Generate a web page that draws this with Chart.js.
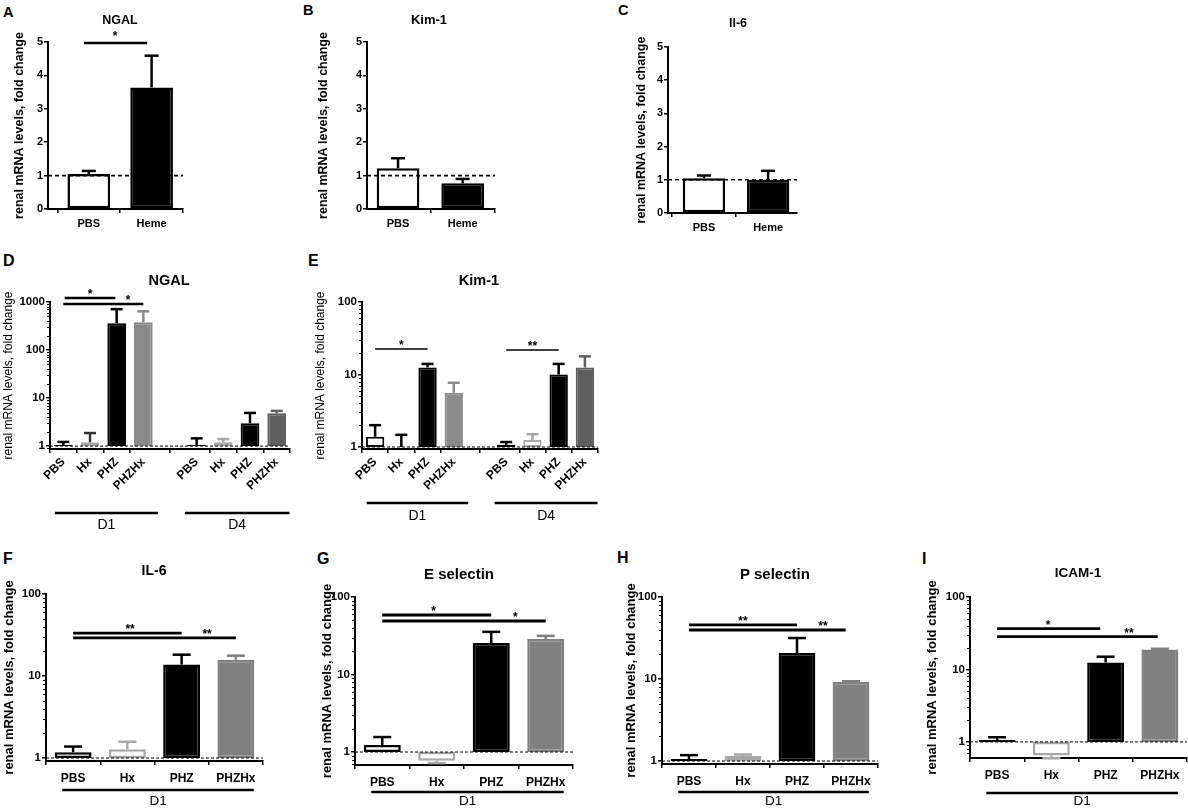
<!DOCTYPE html>
<html><head><meta charset="utf-8">
<script src="https://cdn.jsdelivr.net/npm/chart.js@4.4.1/dist/chart.umd.min.js"></script>
<style>
html,body{margin:0;padding:0;background:#fff;width:1188px;height:812px;overflow:hidden;position:relative;font-family:"Liberation Sans",Arial,sans-serif;}
canvas{position:absolute;}
.lt{position:absolute;font-weight:bold;line-height:1;color:#000;white-space:nowrap;}
.tt{position:absolute;font-weight:bold;line-height:1;color:#000;white-space:nowrap;transform:translate(-50%,-50%);}
</style></head><body>
<script>
const FF = '"Liberation Sans", Arial, sans-serif';
const YTITLE = 'renal mRNA levels, fold change';

// ---------- data ----------
const catsABC = ['PBS', 'Heme'];
const posABC = [0, 1];
const ngalA = [1.05, 3.64];
const ngalAErr = [1.14, 4.59];
const kimB = [1.22, 0.77];
const kimBErr = [1.52, 0.90];
const il6C = [1.05, 1.00];
const il6CErr = [1.13, 1.27];
const ticksLin = [0, 1, 2, 3, 4, 5];

const catsDE = ['PBS', 'Hx', 'PHZ', 'PHZHx', 'PBS', 'Hx', 'PHZ', 'PHZHx'];
const posDE = [0, 1, 2, 3, 5, 6, 7, 8];
const ngalD = [1.05, 1.2, 363, 380, 1.05, 1.2, 3.0, 4.8];
const ngalDErr = [1.22, 1.87, 710, 640, 1.45, 1.4, 4.9, 5.4];
const kimE = [1.38, 1.0, 12.5, 5.6, 1.07, 1.25, 10.0, 12.5];
const kimEErr = [2.0, 1.47, 14.0, 7.7, 1.17, 1.5, 14.0, 17.8];
const ticksD = [1, 10, 100, 1000];
const ticksLog = [1, 10, 100];
const groupsDE = [[-0.32, 3.55, 'D1'], [4.56, 8.48, 'D4']];

const catsFI = ['PBS', 'Hx', 'PHZ', 'PHZHx'];
const posFI = [0, 1, 2, 3];
const il6F = [1.18, 1.28, 13.8, 15.8];
const il6FErr = [1.38, 1.58, 18.2, 17.7];
const eselG = [1.23, 0.77, 25.5, 28.7];
const eselGErr = [1.56, 0.72, 35.5, 31.5];
const pselH = [1.06, 1.15, 20.7, 9.2];
const pselHErr = [1.18, 1.2, 31.6, 9.4];
const icamI = [1.06, 0.65, 12.5, 18.8];
const icamIErr = [1.16, 0.595, 15.0, 19.3];
const groupsFI = [[-0.2, 3.33, 'D1']];

// significance bars: [from, to, y value, label, star position]
const sigA = [[-0.08, 0.93, 4.97, '*', 0.42]];
const sigD = [[0.05, 1.95, 1211, '*', 1.0], [0, 3.0, 908, '*', 2.43]];
const sigE = [[0, 2, 22.5, '*', 1.0], [5, 7, 21.8, '**', 6.0]];
const sigF = [[0, 2, 33.4, '**', 1.05], [0, 3, 29.1, '**', 2.47]];
const sigG = [[0, 2, 58.6, '*', 0.94], [0, 3, 49.0, '*', 2.44]];
const sigH = [[0, 2, 45.6, '**', 1.0], [0, 2.9, 39.6, '**', 2.48]];
const sigI = [[0, 1.9, 36.5, '*', 0.94], [0, 2.96, 28.3, '**', 2.43]];

const REF = 1;

// ---------- styles ----------
const W = '#ffffff', K = '#000000', HX = '#a8a8a8', G1 = '#8a8a8a', G2 = '#5e5e5e', G3 = '#808080';

function panel(p) {
  const padTop = p.padTop || 18, padRight = (p.padRight === undefined) ? 6 : p.padRight;
  const cw = Math.round(p.right - p.left + p.yW + padRight);
  const ch = Math.round(p.bottom - p.top + padTop + p.xH);
  const cv = document.createElement('canvas');
  cv.width = cw; cv.height = ch;
  cv.style.left = (p.left - p.yW) + 'px';
  cv.style.top = (p.top - padTop) + 'px';
  cv.style.width = cw + 'px'; cv.style.height = ch + 'px';
  document.body.appendChild(cv);

  const annot = {
    id: 'annot' + p.id,
    afterDatasetsDraw(chart) {
      const ctx = chart.ctx, xs = chart.scales.x, ys = chart.scales.y, ca = chart.chartArea;
      ctx.save();
      // minor ticks on log axis
      if (p.log) {
        ctx.strokeStyle = K; ctx.lineWidth = 1;
        const d0 = Math.floor(Math.log10(p.ymin)), d1 = Math.ceil(Math.log10(p.ymax));
        for (let d = d0; d < d1; d++) {
          for (let k = 2; k <= 9; k++) {
            const v = k * Math.pow(10, d);
            if (v <= p.ymin || v >= p.ymax) continue;
            const y = Math.round(ys.getPixelForValue(v)) + 0.5;
            ctx.beginPath(); ctx.moveTo(ca.left - 3, y); ctx.lineTo(ca.left, y); ctx.stroke();
          }
        }
      }
      // error bars
      const meta = chart.getDatasetMeta(0);
      meta.data.forEach((bar, i) => {
        const x = bar.x;
        const y0 = ys.getPixelForValue(p.vals[i]);
        const y1 = ys.getPixelForValue(p.errs[i]);
        ctx.strokeStyle = (p.errCols || p.borders)[i];
        ctx.lineWidth = p.errW;
        ctx.beginPath(); ctx.moveTo(x, y0); ctx.lineTo(x, y1); ctx.stroke();
        ctx.beginPath(); ctx.moveTo(x - p.cap / 2, y1); ctx.lineTo(x + p.cap / 2, y1); ctx.stroke();
      });
      // reference dashed line at 1
      ctx.setLineDash(p.dash); ctx.strokeStyle = K; ctx.lineWidth = p.dashW;
      const yr = ys.getPixelForValue(REF);
      ctx.beginPath(); ctx.moveTo(ca.left, yr); ctx.lineTo(ca.right, yr); ctx.stroke();
      ctx.setLineDash([]);
      // significance
      (p.sig || []).forEach(s => {
        const y = ys.getPixelForValue(s[2]);
        ctx.strokeStyle = K; ctx.lineWidth = p.sigW;
        ctx.beginPath(); ctx.moveTo(xs.getPixelForValue(s[0]), y); ctx.lineTo(xs.getPixelForValue(s[1]), y); ctx.stroke();
        ctx.fillStyle = K; ctx.font = 'bold ' + p.starFs + 'px ' + FF;
        ctx.textAlign = 'center'; ctx.textBaseline = 'alphabetic';
        ctx.fillText(s[3], xs.getPixelForValue(s[4]), y + (p.starDy || 0));
      });
      // groups
      (p.groups || []).forEach(g => {
        const y = ca.bottom + p.groupDy;
        ctx.strokeStyle = K; ctx.lineWidth = p.groupW;
        ctx.beginPath(); ctx.moveTo(xs.getPixelForValue(g[0]), y); ctx.lineTo(xs.getPixelForValue(g[1]), y); ctx.stroke();
        ctx.fillStyle = K; ctx.font = p.groupFs + 'px ' + FF;
        ctx.textAlign = 'center'; ctx.textBaseline = 'middle';
        ctx.fillText(g[2], xs.getPixelForValue((g[0] + g[1]) / 2), ca.bottom + p.groupTextDy);
      });
      ctx.restore();
    }
  };

  new Chart(cv, {
    type: 'bar',
    data: {
      labels: p.pos,
      datasets: [{
        data: p.vals.map(v => [p.base, v]),
        backgroundColor: p.fills,
        borderColor: p.borders,
        borderWidth: p.bw,
        borderSkipped: false,
        barPercentage: p.barPct,
        categoryPercentage: 1
      }]
    },
    options: {
      responsive: false, animation: false, events: [],
      layout: { padding: { top: padTop, right: padRight, left: 0, bottom: 0 } },
      plugins: { legend: { display: false }, tooltip: { enabled: false }, title: { display: false } },
      scales: {
        x: {
          type: 'linear', min: p.xmin, max: p.xmax, offset: false,
          afterBuildTicks: s => { s.ticks = p.pos.map(v => ({ value: v })); },
          afterFit: s => { s.height = p.xH; },
          ticks: {
            autoSkip: false, callback: (v, i) => p.cats[i], color: K,
            font: { family: FF, weight: 'bold', size: p.xfs }, padding: p.xpad,
            maxRotation: p.rot || 0, minRotation: p.rot || 0
          },
          grid: { display: true, drawOnChartArea: false, drawTicks: true, tickLength: 4, color: K, lineWidth: 1.5 },
          border: { display: true, color: K, width: 2 }
        },
        y: {
          type: p.log ? 'logarithmic' : 'linear', min: p.ymin, max: p.ymax,
          afterBuildTicks: s => { s.ticks = p.yticks.map(v => ({ value: v })); },
          afterFit: s => { s.width = p.yW; },
          ticks: { autoSkip: false, callback: v => String(v), color: K, font: { family: FF, weight: 'bold', size: p.yfs }, padding: 1 },
          grid: { display: true, drawOnChartArea: false, drawTicks: true, tickLength: 4, color: K, lineWidth: 1.5 },
          border: { display: true, color: K, width: 2 },
          title: {
            display: true, text: YTITLE, color: K,
            font: { family: FF, weight: p.ytBold ? 'bold' : 'normal', size: p.ytFs },
            padding: { top: 10 - p.ytFs * 0.6, bottom: 0 }
          }
        }
      }
    },
    plugins: [annot]
  });
}

function label(txt, x, y, size, cls) {
  const d = document.createElement('div');
  d.className = cls; d.textContent = txt;
  d.style.left = x + 'px'; d.style.top = y + 'px'; d.style.fontSize = size + 'px';
  document.body.appendChild(d);
}

const row1 = { log: false, ymin: 0, ymax: 5, yticks: ticksLin, cats: catsABC, pos: posABC, base: 0,
  fills: [W, K], borders: [K, K], bw: 2.5, xH: 30, xfs: 11, yfs: 11, xpad: 4, ytFs: 12.5, ytBold: true,
  dash: [4, 3], dashW: 1.6, cap: 14, errW: 2.5, sigW: 2.5, starFs: 12 };
panel(Object.assign({}, row1, { id: 'A', left: 48, right: 183, top: 42, bottom: 209, xmin: -0.65, xmax: 1.5,
  vals: ngalA, errs: ngalAErr, barPct: 0.68, yW: 38, sig: sigA, starDy: -3 }));
panel(Object.assign({}, row1, { id: 'B', left: 367, right: 495, top: 42, bottom: 209, xmin: -0.48, xmax: 1.5,
  vals: kimB, errs: kimBErr, barPct: 0.66, yW: 53 }));
panel(Object.assign({}, row1, { id: 'C', left: 668, right: 797, top: 47, bottom: 213, xmin: -0.56, xmax: 1.45,
  vals: il6C, errs: il6CErr, barPct: 0.66, yW: 36 }));

const row2 = { log: true, cats: catsDE, pos: posDE, base: REF, xmin: -0.5, xmax: 8.5,
  fills: [W, W, K, G1, W, W, K, G2], borders: [K, HX, K, G1, K, HX, K, G2],
  errCols: [K, '#333', K, G1, K, HX, K, G2],
  bw: 2, xfs: 12, yfs: 11.5, xpad: 2, rot: 45, ytFs: 12, ytBold: false,
  dash: [3, 2], dashW: 1, cap: 12, errW: 2.5, starFs: 12, barPct: 0.7,
  groups: groupsDE, groupW: 2.5, groupFs: 14 };
panel(Object.assign({}, row2, { id: 'D', left: 50, right: 290, top: 302, bottom: 449, ymin: 0.87, ymax: 1000,
  yticks: ticksD, vals: ngalD, errs: ngalDErr, yW: 51, xH: 90, sig: sigD, sigW: 2.5, groupDy: 64, groupTextDy: 76 }));
panel(Object.assign({}, row2, { id: 'E', left: 362, right: 598, top: 302, bottom: 449, ymin: 0.938, ymax: 100,
  yticks: ticksLog, vals: kimE, errs: kimEErr, yW: 51, xH: 80, sig: sigE, sigW: 1.6, groupDy: 54, groupTextDy: 67,
  errCols: [K, K, K, G1, K, HX, K, G2] }));

const row3 = { log: true, cats: catsFI, pos: posFI, base: REF, xmin: -0.5, xmax: 3.5, ymax: 100, yticks: ticksLog,
  fills: [W, W, K, G3], borders: [K, HX, K, G3], bw: 2.5, xfs: 12, yfs: 11.5, xpad: 6, ytFs: 13, ytBold: true,
  dash: [3, 2], dashW: 1, cap: 18, errW: 2.5, sigW: 2.8, starFs: 12, barPct: 0.68,
  groups: groupsFI, groupW: 2.5, groupFs: 13.5 };
panel(Object.assign({}, row3, { id: 'F', left: 46, right: 263, top: 594, bottom: 761, ymin: 0.92,
  vals: il6F, errs: il6FErr, yW: 47, xH: 50, sig: sigF, groupDy: 29, groupTextDy: 40 }));
panel(Object.assign({}, row3, { id: 'G', left: 355, right: 573, top: 597, bottom: 765, ymin: 0.68,
  vals: eselG, errs: eselGErr, yW: 38, xH: 47, sig: sigG, groupDy: 27, groupTextDy: 36 }));
panel(Object.assign({}, row3, { id: 'H', left: 662, right: 878, top: 597, bottom: 764, ymin: 0.92,
  vals: pselH, errs: pselHErr, yW: 41, xH: 48, sig: sigH, groupDy: 28, groupTextDy: 37 }));
panel(Object.assign({}, row3, { id: 'I', left: 970, right: 1187, top: 597, bottom: 758, ymin: 0.62,
  vals: icamI, errs: icamIErr, yW: 48, xH: 54, sig: sigI, groupDy: 35, groupTextDy: 43, padRight: 1 }));

// panel letters
label('A', 3, 5, 14.5, 'lt'); label('B', 303, 3, 14.5, 'lt'); label('C', 618, 3, 14.5, 'lt');
label('D', 3, 253, 16, 'lt'); label('E', 308, 253, 16, 'lt');
label('F', 3, 551, 16, 'lt'); label('G', 317, 551, 16, 'lt'); label('H', 617, 550, 16, 'lt'); label('I', 922, 551, 16, 'lt');
// panel titles
label('NGAL', 120, 19.5, 12.5, 'tt'); label('Kim-1', 429, 19, 13, 'tt'); label('Il-6', 738, 23, 12.5, 'tt');
label('NGAL', 169, 280, 14.5, 'tt'); label('Kim-1', 479, 280, 14.5, 'tt');
label('IL-6', 154, 570, 14, 'tt'); label('E selectin', 459, 573, 15, 'tt');
label('P selectin', 775, 573, 15, 'tt'); label('ICAM-1', 1078, 573, 13.5, 'tt');
</script>
</body></html>
